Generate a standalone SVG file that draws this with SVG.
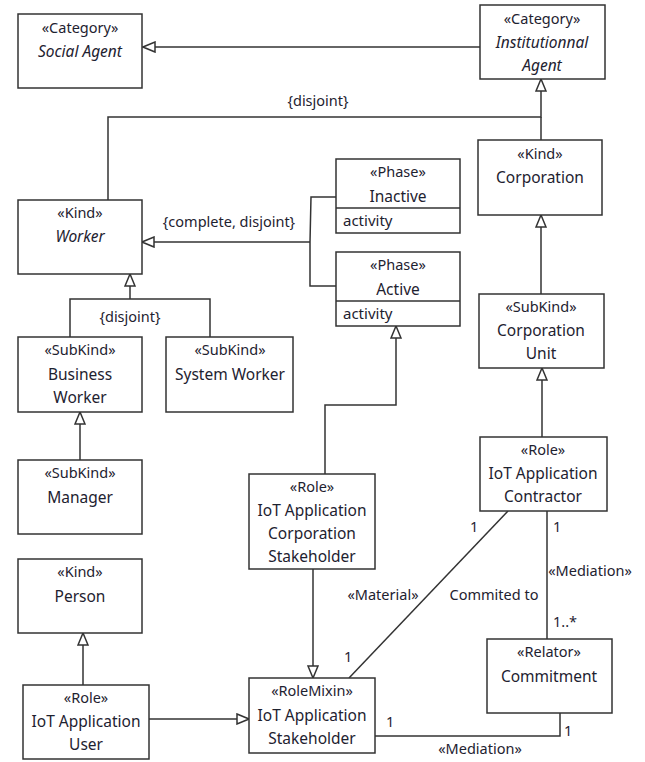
<svg xmlns="http://www.w3.org/2000/svg" width="645" height="762" viewBox="0 0 645 762">
<style>
.box{fill:#fff;stroke:#333;stroke-width:1.5}
.ln{fill:none;stroke:#333;stroke-width:1.5}
text{font-family:"Noto Sans","Open Sans",sans-serif;fill:#1e2230}
.st{font-size:14.5px;text-anchor:middle}
.nm{font-size:15.5px;text-anchor:middle}
.it{font-style:italic}
.lb{font-size:14.5px}
.at{font-size:15px}
</style>
<defs>
<marker id="gen" viewBox="0 0 14 12" refX="13" refY="6" markerWidth="14" markerHeight="12" markerUnits="userSpaceOnUse" orient="auto">
<path d="M1,1 L13,6 L1,11 Z" fill="#fff" stroke="#333" stroke-width="1.5"/>
</marker>
</defs>
<g id="connectors">
<path class="ln" d="M480,47 L143,47" marker-end="url(#gen)"/>
<path class="ln" d="M108,200 L108,117 L541,117 L541,79" marker-end="url(#gen)"/>
<path class="ln" d="M541,140 L541,117"/>
<path class="ln" d="M541,294 L541,215" marker-end="url(#gen)"/>
<path class="ln" d="M542,437 L542,368" marker-end="url(#gen)"/>
<path class="ln" d="M336,197 L311,197 L310,242"/>
<path class="ln" d="M336,286 L310,286 L310,242"/>
<path class="ln" d="M310,242 L142,242" marker-end="url(#gen)"/>
<path class="ln" d="M70,337 L70,299 L210,299 L210,337"/>
<path class="ln" d="M130,299 L130,274" marker-end="url(#gen)"/>
<path class="ln" d="M80,460 L80,412" marker-end="url(#gen)"/>
<path class="ln" d="M83,685 L83,633" marker-end="url(#gen)"/>
<path class="ln" d="M149,719 L249,719" marker-end="url(#gen)"/>
<path class="ln" d="M313,569 L313,678" marker-end="url(#gen)"/>
<path class="ln" d="M325,474 L325,405 L396,405 L396,326" marker-end="url(#gen)"/>
<path class="ln" d="M508,511 L349,678"/>
<path class="ln" d="M547,511 L547,639"/>
<path class="ln" d="M375,736 L560,736 L560,713"/>
<text class="lb" x="318" y="106" text-anchor="middle">{disjoint}</text>
<text class="lb" x="229" y="227" text-anchor="middle">{complete, disjoint}</text>
<text class="lb" x="130" y="322" text-anchor="middle">{disjoint}</text>
<text class="lb" x="470" y="532">1</text>
<text class="lb" x="553" y="532">1</text>
<text class="lb" x="590" y="576" text-anchor="middle">«Mediation»</text>
<text class="lb" x="553" y="627">1..*</text>
<text class="lb" x="383" y="600" text-anchor="middle">«Material»</text>
<text class="lb" x="494" y="600" text-anchor="middle">Commited to</text>
<text class="lb" x="344" y="662">1</text>
<text class="lb" x="386" y="727">1</text>
<text class="lb" x="564" y="736">1</text>
<text class="lb" x="480" y="754" text-anchor="middle">«Mediation»</text>
</g>
<g id="social-agent">
<rect class="box" x="18" y="14" width="124" height="74"/>
<text class="st" x="80" y="33">«Category»</text>
<text class="nm it" x="80" y="57">Social Agent</text>
</g>
<g id="institutionnal-agent">
<rect class="box" x="480" y="5" width="125" height="74"/>
<text class="st" x="542" y="24">«Category»</text>
<text class="nm it" x="542" y="48">Institutionnal</text>
<text class="nm it" x="542" y="71">Agent</text>
</g>
<g id="corporation">
<rect class="box" x="478" y="140" width="124" height="75"/>
<text class="st" x="540" y="159">«Kind»</text>
<text class="nm" x="540" y="183">Corporation</text>
</g>
<g id="worker">
<rect class="box" x="18" y="200" width="124" height="74"/>
<text class="st" x="80" y="218">«Kind»</text>
<text class="nm it" x="80" y="242">Worker</text>
</g>
<g id="inactive">
<rect class="box" x="336" y="159" width="124" height="74"/>
<line class="ln" x1="336" y1="208" x2="460" y2="208"/>
<text class="st" x="398" y="177">«Phase»</text>
<text class="nm" x="398" y="202">Inactive</text>
<text class="at" x="343" y="226">activity</text>
</g>
<g id="active">
<rect class="box" x="336" y="252" width="124" height="74"/>
<line class="ln" x1="336" y1="301" x2="460" y2="301"/>
<text class="st" x="398" y="270">«Phase»</text>
<text class="nm" x="398" y="295">Active</text>
<text class="at" x="343" y="319">activity</text>
</g>
<g id="corporation-unit">
<rect class="box" x="479" y="294" width="125" height="74"/>
<text class="st" x="541" y="312">«SubKind»</text>
<text class="nm" x="541" y="336">Corporation</text>
<text class="nm" x="541" y="359">Unit</text>
</g>
<g id="business-worker">
<rect class="box" x="18" y="337" width="124" height="75"/>
<text class="st" x="80" y="355">«SubKind»</text>
<text class="nm" x="80" y="380">Business</text>
<text class="nm" x="80" y="403">Worker</text>
</g>
<g id="system-worker">
<rect class="box" x="166" y="337" width="127" height="75"/>
<text class="st" x="230" y="355">«SubKind»</text>
<text class="nm" x="230" y="380">System Worker</text>
</g>
<g id="manager">
<rect class="box" x="18" y="460" width="124" height="74"/>
<text class="st" x="80" y="478">«SubKind»</text>
<text class="nm" x="80" y="503">Manager</text>
</g>
<g id="iot-contractor">
<rect class="box" x="480" y="437" width="127" height="74"/>
<text class="st" x="543" y="455">«Role»</text>
<text class="nm" x="543" y="479">IoT Application</text>
<text class="nm" x="543" y="502">Contractor</text>
</g>
<g id="iot-corp-stakeholder">
<rect class="box" x="249" y="474" width="126" height="95"/>
<text class="st" x="312" y="492">«Role»</text>
<text class="nm" x="312" y="516">IoT Application</text>
<text class="nm" x="312" y="539">Corporation</text>
<text class="nm" x="312" y="562">Stakeholder</text>
</g>
<g id="person">
<rect class="box" x="18" y="559" width="124" height="74"/>
<text class="st" x="80" y="577">«Kind»</text>
<text class="nm" x="80" y="602">Person</text>
</g>
<g id="commitment">
<rect class="box" x="487" y="639" width="125" height="74"/>
<text class="st" x="549" y="657">«Relator»</text>
<text class="nm" x="549" y="682">Commitment</text>
</g>
<g id="iot-user">
<rect class="box" x="23" y="685" width="126" height="74"/>
<text class="st" x="86" y="703">«Role»</text>
<text class="nm" x="86" y="727">IoT Application</text>
<text class="nm" x="86" y="750">User</text>
</g>
<g id="iot-stakeholder">
<rect class="box" x="249" y="678" width="126" height="75"/>
<text class="st" x="312" y="696">«RoleMixin»</text>
<text class="nm" x="312" y="721">IoT Application</text>
<text class="nm" x="312" y="744">Stakeholder</text>
</g>
</svg>
